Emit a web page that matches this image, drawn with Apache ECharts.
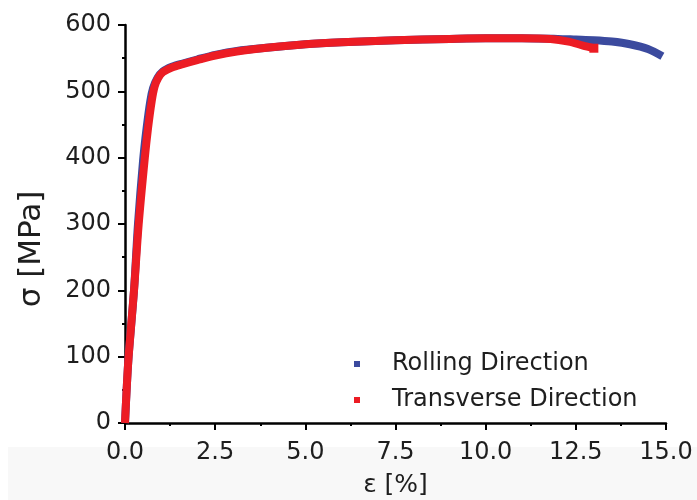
<!DOCTYPE html>
<html>
<head>
<meta charset="utf-8">
<script src="https://cdn.jsdelivr.net/npm/echarts@6/dist/echarts.min.js"></script>
<style>html,body{margin:0;padding:0;background:#fff;}#c{width:697px;height:500px;}</style>
</head>
<body>
<div id="c"></div>
<script>
// strain [%]
var rollingStrain = [0, 0.05, 0.1, 0.25, 0.36, 0.5, 0.6, 0.7, 0.78, 0.9, 1.05, 1.3, 1.6, 2.0, 2.5, 3.1, 4.0, 5.0, 6.0, 7.5, 9.0, 10.0, 11.0, 12.0, 12.5, 13.0, 13.5, 14.0, 14.5, 14.9];
var rollingStress = [0, 55, 100, 200, 300, 395, 445, 485, 505, 520, 530, 537, 542, 548, 555, 561, 566, 571, 574, 577, 579, 580, 580, 579, 578, 577, 575, 571, 564, 553];
var transStrain = [0, 0.05, 0.1, 0.25, 0.38, 0.55, 0.64, 0.74, 0.82, 0.92, 1.05, 1.3, 1.6, 2.0, 2.5, 3.1, 4.0, 5.0, 6.0, 7.5, 9.0, 10.0, 11.0, 11.8, 12.3, 12.7, 13.0];
var transStress = [0, 55, 100, 200, 300, 400, 445, 485, 507, 520, 529, 536, 541, 547, 554, 560, 566, 571, 574, 577, 579, 580, 580, 579, 575, 569, 565];
var seriesNames = ['Rolling Direction', 'Transverse Direction'];
var xTicks = ['0.0', '2.5', '5.0', '7.5', '10.0', '12.5', '15.0'];

function pairs(xs, ys) { return xs.map(function (x, i) { return [x, ys[i]]; }); }

var chart = echarts.init(document.getElementById('c'), null, {renderer: 'canvas'});
var font = '"DejaVu Sans", sans-serif';
var txt = '#1e1e1e';
chart.setOption({
  animation: false,
  backgroundColor: '#ffffff',
  graphic: [{type: 'rect', z: -10, shape: {x: 8, y: 447, width: 689, height: 53}, style: {fill: '#f8f8f8'}}],
  grid: {left: 125, right: 31, top: 25, bottom: 77, containLabel: false, outerBoundsMode: 'none'},
  legend: {
    left: 349, top: 347, orient: 'vertical', itemGap: 12,
    itemWidth: 6, itemHeight: 6, icon: 'rect',
    textStyle: {fontFamily: font, fontSize: 24, color: txt, padding: [0, 0, 0, 27]},
    data: seriesNames
  },
  xAxis: {
    type: 'value', min: 0, max: 15, interval: 2.5,
    name: 'ε [%]', nameLocation: 'middle', nameGap: 50,
    nameTextStyle: {fontFamily: font, fontSize: 25, color: txt},
    axisLine: {show: true, onZero: false, lineStyle: {color: '#000', width: 2.5}},
    axisTick: {show: true, inside: false, length: 7, lineStyle: {color: '#000', width: 2}},
    minorTick: {show: true, splitNumber: 2, length: 3, lineStyle: {color: '#000', width: 2}},
    axisLabel: {fontFamily: font, fontSize: 24, color: txt, margin: 18,
      formatter: function (v) { return xTicks[Math.round(v / 2.5)]; }},
    splitLine: {show: false}
  },
  yAxis: {
    type: 'value', min: 0, max: 600, interval: 100,
    name: 'σ [MPa]', nameLocation: 'middle', nameGap: 78, nameRotate: 90,
    nameTextStyle: {fontFamily: font, fontSize: 31, color: txt, padding: [0, 50, 0, 0]},
    axisLine: {show: true, onZero: false, lineStyle: {color: '#000', width: 2.5}},
    axisTick: {show: true, inside: false, length: 7, lineStyle: {color: '#000', width: 2}},
    minorTick: {show: true, splitNumber: 2, length: 3, lineStyle: {color: '#000', width: 2}},
    axisLabel: {fontFamily: font, fontSize: 24, color: txt, margin: 14},
    splitLine: {show: false}
  },
  series: [
    {name: seriesNames[0], type: 'line', data: pairs(rollingStrain, rollingStress),
     smooth: 0.3, showSymbol: false, symbol: 'rect', symbolSize: 6,
     color: '#3b4a9e', lineStyle: {color: '#3b4a9e', width: 8}, z: 2},
    {name: seriesNames[1], type: 'line', data: pairs(transStrain, transStress),
     smooth: 0.3, showSymbol: false, symbol: 'rect', symbolSize: 6,
     color: '#ec1c24', lineStyle: {color: '#ec1c24', width: 8}, z: 3,
     markPoint: {symbol: 'rect', symbolSize: 9, label: {show: false},
       itemStyle: {color: '#ec1c24'},
       data: [{coord: [transStrain[transStrain.length - 1], transStress[transStress.length - 1]]}]}}
  ]
});
</script>
</body>
</html>
